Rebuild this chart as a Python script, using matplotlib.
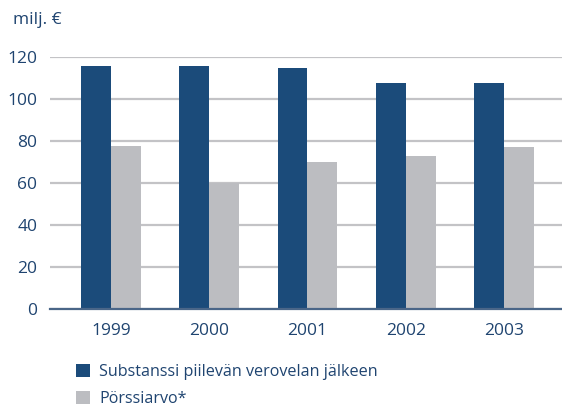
import matplotlib.pyplot as plt
import numpy as np

years = ['1999', '2000', '2001', '2002', '2003']
substanssi = [115.7, 115.8, 114.8, 107.6, 107.6]
porssiarvo = [77.6, 60.0, 70.0, 72.9, 77.1]
labels = ['Substanssi piilevän verovelan jälkeen', 'Pörssiarvo*']

blue = '#1b4b7a'
grey = '#bcbdc1'
text_c = '#1f4470'

plt.rcParams['font.family'] = ['Open Sans', 'DejaVu Sans']

fig = plt.figure(figsize=(5.62, 4.05), dpi=100)
ax = fig.add_axes([50 / 562, 1 - 309 / 405, 512 / 562, 252 / 405])

x = np.arange(len(years))
w = 0.305
b1 = ax.bar(x - w / 2, substanssi, w, color=blue, zorder=3)
b2 = ax.bar(x + w / 2, porssiarvo, w, color=grey, zorder=3)

ax.set_ylim(0, 120)
ax.set_xlim(-0.62, 4.59)
ax.set_yticks(range(0, 121, 20))
ax.set_xticks(x)
ax.set_xticklabels(years)
ax.grid(axis='y', color='#c3c3c6', linewidth=1.6, zorder=0)
for s in ['top', 'right', 'left']:
    ax.spines[s].set_visible(False)
ax.spines['bottom'].set_color('#4a6688')
ax.spines['bottom'].set_linewidth(1.6)
ax.spines['bottom'].set_zorder(4)
ax.tick_params(length=0, labelsize=12.5, colors=text_c)
ax.tick_params(axis='y', pad=9)
ax.tick_params(axis='x', pad=10)

fig.text(13 / 562, 1 - 20 / 405, 'milj. €', fontsize=12.5, color=text_c, va='center')

leg = fig.legend([b1, b2], labels, loc='upper left',
                 bbox_to_anchor=(76 / 562, 1 - 364 / 405), frameon=False,
                 borderpad=0, borderaxespad=0,
                 handlelength=0.87, handleheight=0.87, handletextpad=0.56,
                 labelspacing=0.68, fontsize=11.6, labelcolor=text_c)

fig.savefig('out.png', dpi=100)
